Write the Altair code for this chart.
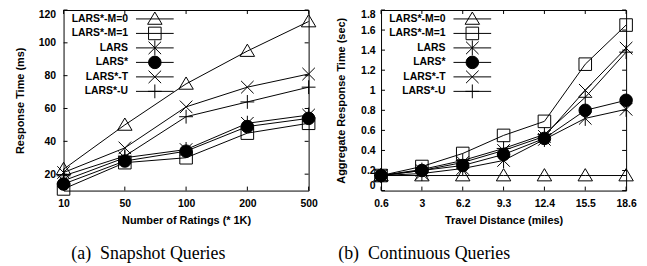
import altair as alt
import pandas as pd

series = ["LARS*-M=0", "LARS*-M=1", "LARS", "LARS*", "LARS*-T", "LARS*-U"]
shapes = [
    "M0,-1.1L1.15,0.85L-1.15,0.85Z",
    "M-1,-1H1V1H-1Z",
    "M-1,-1L1,1M-1,1L1,-1M0,-1.2V1.2",
    "circle",
    "M-1,-1L1,1M-1,1L1,-1",
    "M-1.1,0H1.1M0,-1.1V1.1",
]
fills = ["transparent", "transparent", "transparent", "black", "transparent", "transparent"]

# (a) Snapshot queries
ratings = ["10", "50", "100", "200", "500"]
snap_m0 = [23, 50, 75, 95, 113]
snap_m1 = [11, 27, 30, 45, 51]
snap_lars = [16, 30, 35, 51, 56]
snap_larsstar = [14, 28, 34, 49, 54]
snap_t = [21, 36, 61, 73, 81]
snap_u = [19, 31, 55, 64, 73]
snap_yticks = [20, 40, 60, 80, 100, 120]

# (b) Continuous queries
distances = ["0.6", "3", "6.2", "9.3", "12.4", "15.5", "18.6"]
cont_m0 = [0.15, 0.15, 0.15, 0.15, 0.15, 0.15, 0.15]
cont_m1 = [0.15, 0.24, 0.37, 0.55, 0.69, 1.26, 1.65]
cont_lars = [0.15, 0.17, 0.22, 0.30, 0.51, 0.72, 0.81]
cont_larsstar = [0.15, 0.20, 0.25, 0.36, 0.52, 0.80, 0.90]
cont_t = [0.15, 0.20, 0.28, 0.40, 0.54, 1.00, 1.42]
cont_u = [0.15, 0.21, 0.30, 0.42, 0.56, 0.93, 1.38]
cont_yticks = [0, 0.2, 0.4, 0.6, 0.8, 1, 1.2, 1.4, 1.6, 1.8]

W, H = 247, 182
FONT = "Liberation Sans"
MSIZE = 160


def long_df(cats, values):
    rows = []
    for s, vals in zip(series, values):
        for c, v in zip(cats, vals):
            rows.append({"x": c, "series": s, "y": v})
    return pd.DataFrame(rows)


def panel(df, cats, ydomain, yticks, yfmt, xtitle, ytitle, caption, cap_dx, lpad, tpad):
    xs = alt.X("x:N", sort=cats,
               scale=alt.Scale(type="point", domain=cats, padding=0),
               axis=alt.Axis(title=xtitle, labelAngle=0, labelPadding=8, titlePadding=6))
    ys = alt.Y("y:Q", scale=alt.Scale(domain=ydomain, nice=False, zero=False),
               axis=alt.Axis(title=ytitle, values=yticks, format=yfmt, labelFlush=True,
                             labelPadding=lpad, titlePadding=tpad))
    shape = alt.Shape("series:N", scale=alt.Scale(domain=series, range=shapes), legend=None)
    fill = alt.Fill("series:N", scale=alt.Scale(domain=series, range=fills), legend=None)

    lines = alt.Chart(df).mark_line(color="black", strokeWidth=1).encode(
        x=xs, y=ys, detail="series:N")
    points = alt.Chart(df).mark_point(filled=True, stroke="black", strokeWidth=1,
                                      size=MSIZE, opacity=1).encode(
        x=xs, y=ys, shape=shape, fill=fill)

    ytdf = pd.DataFrame({"y": yticks})
    xtdf = pd.DataFrame({"x": cats})
    yt1 = alt.Chart(ytdf).mark_rule(color="black").encode(
        y=ys, x=alt.value(0), x2=alt.value(4))
    yt2 = alt.Chart(ytdf).mark_rule(color="black").encode(
        y=ys, x=alt.value(W - 4), x2=alt.value(W))
    xt1 = alt.Chart(xtdf).mark_rule(color="black").encode(
        x=xs, y=alt.value(H), y2=alt.value(H - 4))
    xt2 = alt.Chart(xtdf).mark_rule(color="black").encode(
        x=xs, y=alt.value(0), y2=alt.value(4))

    main = alt.layer(lines, points, yt1, yt2, xt1, xt2)

    ldf = pd.DataFrame({"series": series})
    ly = alt.Y("series:N", scale=alt.Scale(type="point", domain=series,
                                           range=[9, 82], padding=0), axis=None)
    lrule = alt.Chart(ldf).mark_rule(color="black", strokeWidth=1).encode(
        y=ly, x=alt.value(73), x2=alt.value(111))
    lpts = alt.Chart(ldf).mark_point(filled=True, stroke="black", strokeWidth=1,
                                     size=MSIZE, opacity=1).encode(
        y=ly, x=alt.value(92), shape=shape, fill=fill)
    ltxt = alt.Chart(ldf).mark_text(align="right", baseline="middle", font=FONT,
                                    fontWeight="bold", fontSize=10.5, color="black").encode(
        y=ly, x=alt.value(65), text="series:N")
    legend = alt.layer(lrule, lpts, ltxt)

    return alt.layer(main, legend).resolve_scale(y="independent").properties(
        width=W, height=H,
        title=alt.TitleParams(caption, orient="bottom", anchor="middle", frame="group",
                              dx=cap_dx, offset=19, font="Liberation Serif",
                              fontSize=18, fontWeight="normal", color="black"))


snap_df = long_df(ratings, [snap_m0, snap_m1, snap_lars, snap_larsstar, snap_t, snap_u])
cont_df = long_df(distances, [cont_m0, cont_m1, cont_lars, cont_larsstar, cont_t, cont_u])

left = panel(snap_df, ratings, [10, 120], snap_yticks, "d", "Number of Ratings (* 1K)",
             "Response Time (ms)", "(a)\u00a0 Snapshot Queries", -38, 8, 13)
right = panel(cont_df, distances, [0, 1.8], cont_yticks, "~g", "Travel Distance (miles)",
              "Aggregate Response Time (sec)", "(b)\u00a0 Continuous Queries", -80, 6, 14)

chart = alt.hconcat(left, right, spacing=73, bounds="flush").properties(
    padding={"left": 5, "top": 0, "right": 2, "bottom": 2}
).configure_view(stroke="black", strokeWidth=1).configure_axis(
    labelFont=FONT, labelFontWeight="bold", labelFontSize=10.5, labelColor="black",
    titleFont=FONT, titleFontWeight="bold", titleFontSize=11, titleColor="black",
    ticks=False, domain=False, grid=False)

chart.save("out.html", embed_options={"renderer": "svg", "actions": False})
